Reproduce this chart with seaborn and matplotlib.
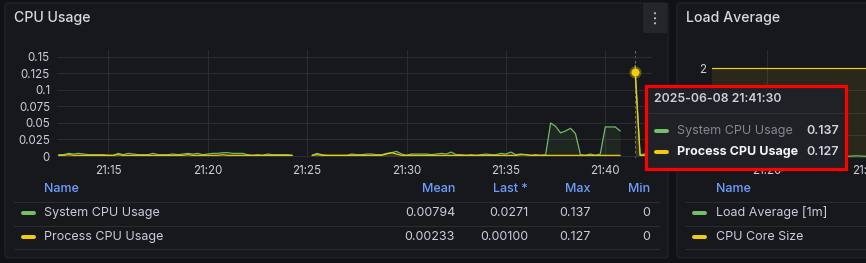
import numpy as np
import pandas as pd
import matplotlib
matplotlib.use("Agg")
import matplotlib.pyplot as plt
import matplotlib.dates as mdates
from matplotlib.ticker import FuncFormatter, FixedLocator, NullFormatter
from matplotlib.patches import FancyBboxPatch, Rectangle, Circle
import seaborn as sns

nan = np.nan

# ------------------------------------------------------------------ data
cpu_start = "2025-06-08 21:12:30"
cpu_step_s = 15
system_cpu = [
    0.002, 0.002, 0.004, 0.003, 0.004, 0.003, 0.002, 0.002, 0.002, 0.002,
    0.001, 0.001, 0.004, 0.002, 0.004, 0.003, 0.002, 0.002, 0.002, 0.004,
    0.002, 0.002, 0.002, 0.003, 0.002, 0.003, 0.004, 0.003, 0.004, 0.002,
    0.003, 0.004, 0.004, 0.005, 0.005, 0.004, 0.004, 0.004, 0.002, 0.001,
    0.002, 0.001, 0.003, 0.002, 0.002, 0.002, 0.002, 0.001, nan, nan,
    nan, 0.001, 0.004, 0.002, 0.001, 0.001, 0.001, 0.001, 0.001, 0.003,
    0.002, 0.002, 0.003, 0.003, 0.002, 0.002, 0.004, 0.005, 0.007, 0.003,
    0.001, 0.003, 0.003, 0.003, 0.003, 0.002, 0.003, 0.004, 0.003, 0.006,
    0.002, 0.002, 0.001, 0.002, 0.001, 0.002, 0.003, 0.002, 0.002, 0.004,
    0.003, 0.006, 0.002, 0.003, 0.002, 0.001, 0.002, 0.001, 0.002, 0.050,
    0.045, 0.035, 0.038, 0.042, 0.034, 0.002, 0.001, 0.003, 0.001, 0.003,
    0.044, 0.044, 0.044, 0.038, nan, nan, 0.137, 0.002, 0.003, 0.0271,
]
process_cpu = [
    0.001, 0.001, 0.002, 0.001, 0.001, 0.001, 0.001, 0.001, 0.001, 0.001,
    0.001, 0.001, 0.002, 0.001, 0.001, 0.001, 0.001, 0.001, 0.001, 0.001,
    0.001, 0.001, 0.001, 0.001, 0.001, 0.001, 0.002, 0.001, 0.001, 0.001,
    0.001, 0.001, 0.001, 0.002, 0.001, 0.001, 0.001, 0.001, 0.001, 0.001,
    0.001, 0.001, 0.001, 0.001, 0.001, 0.001, 0.001, 0.001, nan, nan,
    nan, 0.001, 0.002, 0.001, 0.001, 0.001, 0.001, 0.001, 0.001, 0.001,
    0.001, 0.001, 0.001, 0.001, 0.001, 0.001, 0.003, 0.005, 0.003, 0.001,
    0.001, 0.001, 0.001, 0.001, 0.001, 0.001, 0.001, 0.001, 0.001, 0.001,
    0.001, 0.001, 0.001, 0.001, 0.001, 0.001, 0.001, 0.001, 0.001, 0.001,
    0.001, 0.001, 0.001, 0.002, 0.002, 0.001, 0.001, 0.001, 0.001, 0.001,
    0.001, 0.001, 0.001, 0.001, 0.001, 0.001, 0.001, 0.001, 0.001, 0.001,
    0.001, 0.001, 0.001, 0.001, nan, nan, 0.127, 0.001, 0.001, 0.001,
]
cpu_series = ["System CPU Usage", "Process CPU Usage"]
cpu_yticks = [0, 0.025, 0.05, 0.075, 0.1, 0.125, 0.15]
stat_headers = ["Mean", "Last *", "Max", "Min"]
stats_system = ["0.00794", "0.0271", "0.137", "0"]
stats_process = ["0.00233", "0.00100", "0.127", "0"]

hover_time = "2025-06-08 21:41:30"
hover_values = [0.137, 0.127]
hover_labels = ["0.137", "0.127"]

load_start = "2025-06-08 21:13:00"
load_step_s = 60
load_avg = [0.05, 0.04, 0.03, 0.03, 0.02, 0.02, 0.03, 0.02, 0.02, 0.01,
            0.01, 0.02, 0.02, 0.01, 0.01, 0.02, 0.03, 0.02, 0.02, 0.01,
            0.01, 0.02, 0.03, 0.04, 0.03, 0.03, 0.02, 0.01, 0.01, 0.02]
cpu_cores = [2, 2, 2, 2, 2, 2, 2, 2, 2, 2,
             2, 2, 2, 2, 2, 2, 2, 2, 2, 2,
             2, 2, 2, 2, 2, 2, 2, 2, 2, 2]
load_series = ["Load Average [1m]", "CPU Core Size"]
load_ytick_labeled = [2]          # the only tick label not hidden by the tooltip
load_ygrid = [0, 0.5, 1, 1.5]

# ------------------------------------------------------------------ style
BG = "#111216"
PANEL = "#17181c"
BORDER = "#25272c"
GRID = "#2a2c31"
TXT = "#ccccdc"
BLUE = "#6e9fff"
GREEN = "#73bf69"
YELLOW = "#f2cc0c"
TT_BG = "#1f2126"

sns.set_style("dark")
plt.rcParams["font.family"] = ["Inter", "DejaVu Sans"]

W, H = 866, 263
fig = plt.figure(figsize=(W / 100, H / 100), dpi=100, facecolor=BG)


def pt(v):
    return v * 72 / 100


def fax(x0, y0, x1, y1):
    return [x0 / W, 1 - y1 / H, (x1 - x0) / W, (y1 - y0) / H]


def overlay(z):
    a = fig.add_axes([0, 0, 1, 1])
    a.set_xlim(0, W)
    a.set_ylim(H, 0)
    a.axis("off")
    a.set_zorder(z)
    a.patch.set_visible(False)
    return a


def txt(a, x, y, s, size=9, color=TXT, ha="left", weight="normal"):
    a.text(x, y, s, fontsize=size, color=color, ha=ha, va="center", fontweight=weight)


def dash(a, x0, x1, y, color):
    a.plot([x0, x1], [y, y], color=color, lw=pt(4), solid_capstyle="round")


bg = overlay(0)

# panels
for (x0, x1) in [(5, 668), (677, 880)]:
    bg.add_patch(FancyBboxPatch((x0, 3), x1 - x0, 255, boxstyle="round,pad=0,rounding_size=3",
                                fc=PANEL, ec=BORDER, lw=pt(1)))
# menu button
bg.add_patch(FancyBboxPatch((643, 3), 24, 30, boxstyle="round,pad=0,rounding_size=2",
                            fc="#24262b", ec="none"))
for yy in (13.3, 18.3, 23.3):
    bg.add_patch(Circle((655, yy), 1.1, fc="#b9bac2", ec="none"))

txt(bg, 14, 18, "CPU Usage", size=10.2, color="#d8d9de", weight="medium")
txt(bg, 686, 18, "Load Average", size=10.2, color="#d8d9de", weight="medium")

# left legend table
row_y = [212.7, 236.7]
txt(bg, 44, 188.5, "Name", size=9, color=BLUE, weight="medium")
col_x = [455, 528, 591, 650]
for cx, h in zip(col_x, stat_headers):
    txt(bg, cx, 188.5, h, size=9, color=BLUE, ha="right", weight="medium")
for yy in (201.7, 225.7, 249.3):
    bg.plot([14, 659], [yy, yy], color=GRID, lw=pt(1))
for ry, name, col, stats in zip(row_y, cpu_series, [GREEN, YELLOW], [stats_system, stats_process]):
    dash(bg, 23, 34, ry, col)
    txt(bg, 44, ry, name, size=9)
    for cx, s in zip(col_x, stats):
        txt(bg, cx, ry, s, size=9, ha="right")

# right legend table
txt(bg, 716, 188.5, "Name", size=9, color=BLUE, weight="medium")
for yy in (201.7, 225.7, 249.3):
    bg.plot([685, 870], [yy, yy], color=GRID, lw=pt(1))
for ry, name, col in zip(row_y, load_series, [GREEN, YELLOW]):
    dash(bg, 694, 705, ry, col)
    txt(bg, 716, ry, name, size=9)

# ------------------------------------------------------------------ CPU usage chart
times = pd.date_range(cpu_start, periods=len(system_cpu), freq=f"{cpu_step_s}s")
df = pd.DataFrame({"time": times, cpu_series[0]: system_cpu, cpu_series[1]: process_cpu})
df["seg"] = df[cpu_series[0]].isna().cumsum()
long = df.melt(id_vars=["time", "seg"], var_name="series", value_name="value").dropna()

ax1 = fig.add_axes(fax(57, 50, 652, 158))
ax1.set_zorder(1)
ax1.patch.set_visible(False)
for name, col in zip(cpu_series, [GREEN, YELLOW]):
    for _, g in df.dropna().groupby("seg"):
        ax1.fill_between(g["time"].values, 0, g[name].values, color=col, alpha=0.09, lw=0)
sns.lineplot(data=long, x="time", y="value", hue="series", hue_order=cpu_series,
             palette=[GREEN, YELLOW], units="seg", estimator=None, lw=pt(1.2),
             legend=False, ax=ax1)
ax1.set_xlim(pd.Timestamp("2025-06-08 21:12:25"), pd.Timestamp("2025-06-08 21:42:21"))
ax1.set_ylim(-0.00303, 0.1606)
ax1.yaxis.set_major_locator(FixedLocator(cpu_yticks))
ax1.yaxis.set_major_formatter(FuncFormatter(lambda v, p: f"{v:g}"))
ax1.xaxis.set_major_locator(mdates.MinuteLocator(byminute=range(0, 60, 5)))
ax1.xaxis.set_major_formatter(mdates.DateFormatter("%H:%M"))
ax1.set_xlabel("")
ax1.set_ylabel("")
for s in ax1.spines.values():
    s.set_visible(False)
ax1.tick_params(length=0, colors=TXT, labelsize=8.3)
ax1.tick_params(axis="y", pad=pt(7))
ax1.tick_params(axis="x", pad=pt(6.5))
ax1.grid(True, color=GRID, lw=pt(1))
ax1.set_axisbelow(True)
ht = pd.Timestamp(hover_time)
ax1.axvline(ht, color="#6c6e74", lw=pt(1), ls=(0, (2.5, 2.5)), zorder=0.5)
ax1.axhline(0.1253, color="#6c6e74", lw=pt(1), ls=(0, (2.5, 2.5)), zorder=0.5)
ax1.plot([ht], [hover_values[1]], "o", ms=pt(12), color=YELLOW, alpha=0.35, mec="none", zorder=5)
ax1.plot([ht], [hover_values[1]], "o", ms=pt(8), color=YELLOW, mec="none", zorder=6)

# ------------------------------------------------------------------ Load average chart
ltimes = pd.date_range(load_start, periods=len(load_avg), freq=f"{load_step_s}s")
ldf = pd.DataFrame({"time": ltimes, load_series[0]: load_avg, load_series[1]: cpu_cores})
llong = ldf.melt(id_vars=["time"], var_name="series", value_name="value")
ax2 = fig.add_axes(fax(712, 50, 1012, 158))
ax2.set_zorder(1)
ax2.patch.set_visible(False)
for name, col in zip(load_series, [GREEN, YELLOW]):
    ax2.fill_between(ldf["time"].values, 0, ldf[name].values, color=col, alpha=0.09, lw=0)
sns.lineplot(data=llong, x="time", y="value", hue="series", hue_order=load_series,
             palette=[GREEN, YELLOW], lw=pt(1.2), legend=False, ax=ax2)
ax2.set_xlim(pd.Timestamp("2025-06-08 21:14:32"), pd.Timestamp("2025-06-08 21:44:32"))
ax2.set_ylim(-0.018, 2.41)
ax2.yaxis.set_major_locator(FixedLocator(load_ytick_labeled))
ax2.yaxis.set_major_formatter(FuncFormatter(lambda v, p: f"{v:g}"))
ax2.yaxis.set_minor_locator(FixedLocator(load_ygrid))
ax2.yaxis.set_minor_formatter(NullFormatter())
ax2.xaxis.set_major_locator(mdates.MinuteLocator(byminute=range(0, 60, 10)))
ax2.xaxis.set_major_formatter(mdates.DateFormatter("%H:%M"))
ax2.set_xlabel("")
ax2.set_ylabel("")
for s in ax2.spines.values():
    s.set_visible(False)
ax2.tick_params(which="both", length=0, colors=TXT, labelsize=8.3)
ax2.tick_params(axis="y", pad=pt(6))
ax2.tick_params(axis="x", pad=pt(6.5))
ax2.grid(True, which="both", color=GRID, lw=pt(1))
ax2.set_axisbelow(True)

# ------------------------------------------------------------------ tooltip
top = overlay(10)
top.add_patch(Rectangle((646, 86.5), 199, 82, fc=TT_BG, ec="#2e3036", lw=pt(1)))
top.add_patch(Rectangle((645.5, 86), 200, 83, fc="none", ec="#ff0000", lw=pt(3.2)))
txt(top, 654, 99, ht.strftime("%Y-%m-%d %H:%M:%S"), size=8.8, color="#cdcdd6", weight="semibold")
top.plot([648, 844], [113.3, 113.3], color="#2e3036", lw=pt(1))
dash(top, 656, 667, 130.7, GREEN)
txt(top, 677, 130.7, cpu_series[0], size=9, color="#85868e")
txt(top, 839, 130.7, hover_labels[0], size=9, color="#d4d4dc", ha="right", weight="semibold")
dash(top, 656, 667, 151.7, YELLOW)
txt(top, 677, 151.7, cpu_series[1], size=9, color="#f4f4f8", weight="bold")
txt(top, 839, 151.7, hover_labels[1], size=9, color="#d4d4dc", ha="right", weight="semibold")

fig.savefig("out.png", dpi=100, facecolor=BG)
